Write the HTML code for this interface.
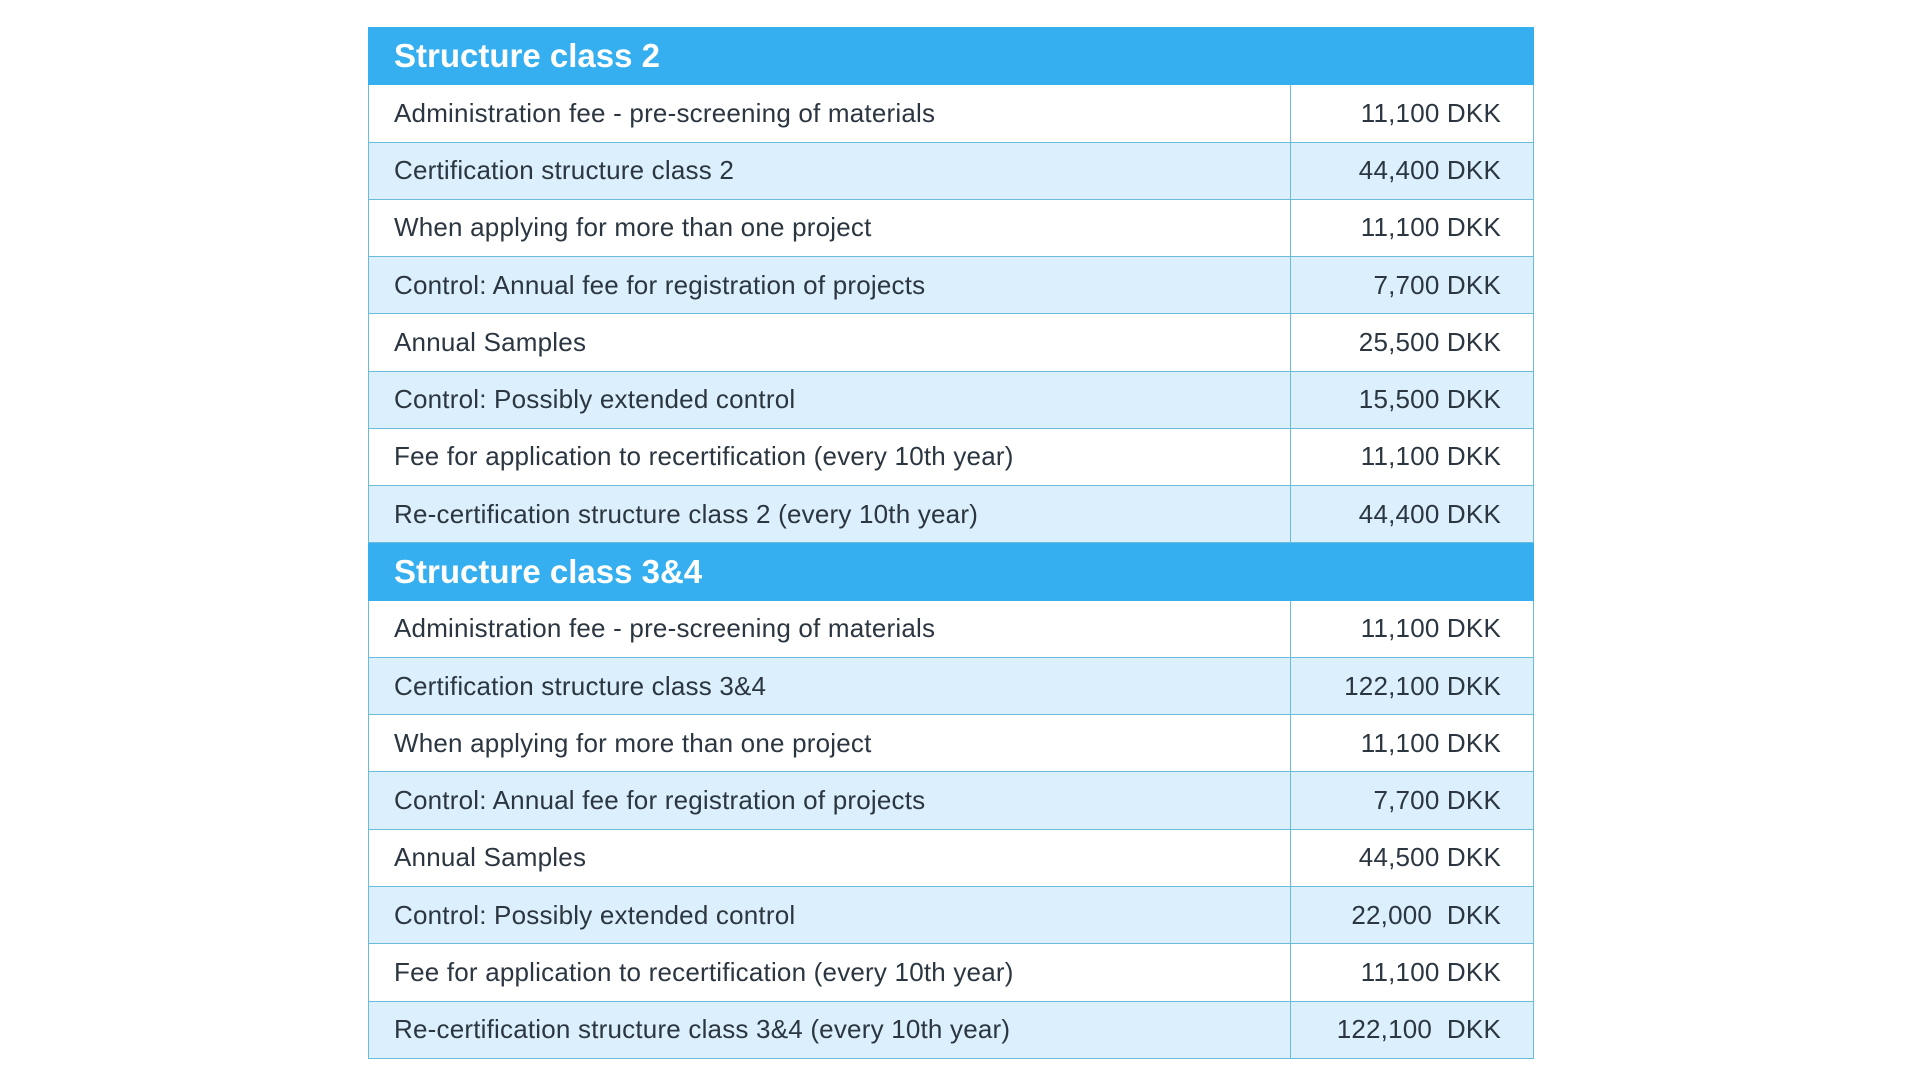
<!DOCTYPE html>
<html><head><meta charset="utf-8"><style>
body{margin:0;width:1920px;height:1080px;background:#fff;font-family:"Liberation Sans",sans-serif;}
table{position:absolute;left:368px;top:27px;width:1165px;height:1031px;border-collapse:collapse;table-layout:fixed;}
tr{height:57.28px;}
td{padding:0;border:1px solid #6bbcd8;font-size:26px;letter-spacing:0.2px;color:#2b3640;box-sizing:border-box;white-space:nowrap;}
td.l{padding-left:25px;}
td.r{text-align:right;padding-right:32px;white-space:pre;}
tr.b td{background:#dbf0fc;}
tr.h td{background:#35aff0;color:#fff;font-weight:bold;font-size:33px;letter-spacing:0;padding-left:25px;border-color:#35aff0;}
</style></head><body>
<table>
<colgroup><col style="width:922px"><col style="width:243px"></colgroup>
<tr class="h"><td colspan="2">Structure class 2</td></tr>
<tr><td class="l">Administration fee - pre-screening of materials</td><td class="r">11,100 DKK</td></tr>
<tr class="b"><td class="l">Certification structure class 2</td><td class="r">44,400 DKK</td></tr>
<tr><td class="l">When applying for more than one project</td><td class="r">11,100 DKK</td></tr>
<tr class="b"><td class="l">Control: Annual fee for registration of projects</td><td class="r">7,700 DKK</td></tr>
<tr><td class="l">Annual Samples</td><td class="r">25,500 DKK</td></tr>
<tr class="b"><td class="l">Control: Possibly extended control</td><td class="r">15,500 DKK</td></tr>
<tr><td class="l">Fee for application to recertification (every 10th year)</td><td class="r">11,100 DKK</td></tr>
<tr class="b"><td class="l">Re-certification structure class 2 (every 10th year)</td><td class="r">44,400 DKK</td></tr>
<tr class="h"><td colspan="2">Structure class 3&amp;4</td></tr>
<tr><td class="l">Administration fee - pre-screening of materials</td><td class="r">11,100 DKK</td></tr>
<tr class="b"><td class="l">Certification structure class 3&amp;4</td><td class="r">122,100 DKK</td></tr>
<tr><td class="l">When applying for more than one project</td><td class="r">11,100 DKK</td></tr>
<tr class="b"><td class="l">Control: Annual fee for registration of projects</td><td class="r">7,700 DKK</td></tr>
<tr><td class="l">Annual Samples</td><td class="r">44,500 DKK</td></tr>
<tr class="b"><td class="l">Control: Possibly extended control</td><td class="r">22,000  DKK</td></tr>
<tr><td class="l">Fee for application to recertification (every 10th year)</td><td class="r">11,100 DKK</td></tr>
<tr class="b"><td class="l">Re-certification structure class 3&amp;4 (every 10th year)</td><td class="r">122,100  DKK</td></tr>
</table>
</body></html>
